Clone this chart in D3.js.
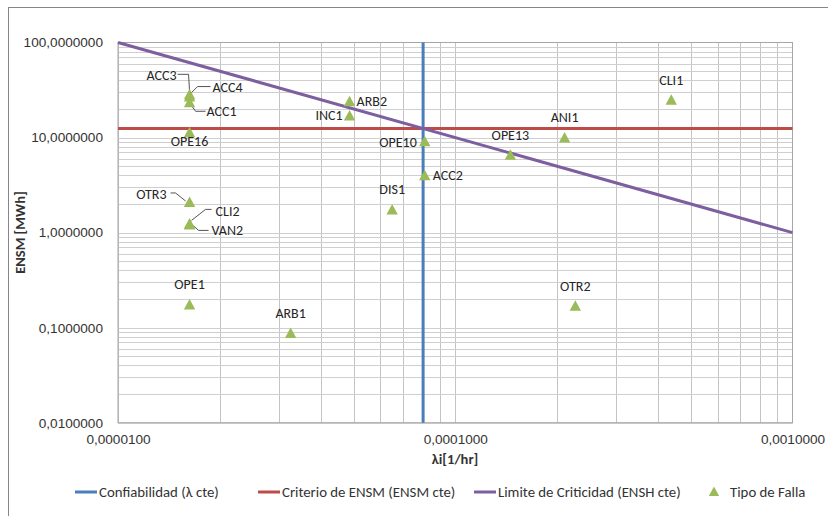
<!DOCTYPE html>
<html>
<head>
<meta charset="utf-8">
<script src="https://cdn.jsdelivr.net/npm/d3@7"></script>
<style>
  body { margin: 0; background: #fff; }
  svg { display: block; font-family: Carlito, Calibri, "Liberation Sans", Arial, sans-serif; }
</style>
</head>
<body>
<div id="chart"></div>
<script>
// failure types (lambda in 1/hr, ENSM in MWh)
const fallas = ["ACC3", "ACC4", "ACC1", "OPE16", "OTR3", "CLI2", "VAN2", "ARB2", "INC1",
                "OPE10", "ACC2", "DIS1", "OPE13", "ANI1", "CLI1", "OTR2", "OPE1", "ARB1"];
const lambdas = [1.63e-5, 1.63e-5, 1.63e-5, 1.63e-5, 1.63e-5, 1.63e-5, 1.63e-5, 4.86e-5, 4.86e-5,
                 8.12e-5, 8.12e-5, 6.5e-5, 1.457e-4, 2.11e-4, 4.37e-4, 2.27e-4, 1.63e-5, 3.25e-5];
const ensm = [28.5, 27, 23.5, 11.4, 2.1, 1.25, 1.22, 24.1, 17.1,
              9.15, 4.0, 1.75, 6.6, 10.0, 25, 0.17, 0.175, 0.088];

// reference criteria
const lambdaCte = 8.03e-5;   // Confiabilidad
const ensmCte = 12.45;       // Criterio de ENSM
const enshCte = 1e-3;        // Limite de Criticidad: lambda * ENSM

const xTicks = [1e-5, 1e-4, 1e-3];
const yTicks = [0.01, 0.1, 1, 10, 100];

const legendLabels = ["Confiabilidad (λ cte)", "Criterio de ENSM (ENSM cte)",
                      "Limite de Criticidad (ENSH cte)", "Tipo de Falla"];

// label placement (text offset from the marker, anchor, optional leader line)
const labelPos = {
  ACC3:  { dx: -13, dy: -19, a: "end", lead: [[-12, -20], [-1, -20], [0, -3]] },
  ACC4:  { dx: 23, dy: -9, a: "start", lead: [[21, -10], [8, -10], [1, -3]] },
  ACC1:  { dx: 17, dy: 9, a: "start", lead: [[16, 9], [6, 9], [1, 2]] },
  OPE16: { dx: 0, dy: 9, a: "middle" },
  OTR3:  { dx: -23, dy: -8, a: "end", lead: [[-19, -9], [-14, -9], [-4, -1]] },
  CLI2:  { dx: 26, dy: -12, a: "start", lead: [[22, -14], [16, -14], [2, -3]] },
  VAN2:  { dx: 22, dy: 6, a: "start", lead: [[19, 6], [9, 6], [1, -1]] },
  ARB2:  { dx: 7, dy: 0, a: "start" },
  INC1:  { dx: -7, dy: 0, a: "end" },
  OPE10: { dx: -8, dy: 1, a: "end" },
  ACC2:  { dx: 8, dy: 0, a: "start" }
};

const width = 828, height = 516;
const margin = { left: 118, right: 35.5, top: 42.5, bottom: 93.3 };
const colors = { blue: "#4a7ebb", red: "#be4b48", purple: "#7d5fa0", green: "#9bbb59" };

const loc = d3.formatLocale({ decimal: ",", thousands: ".", grouping: [3], currency: ["", ""] });
const fmt = loc.format(".7f");

const svg = d3.select("#chart").append("svg")
  .attr("width", width)
  .attr("height", height);

// chart frame
svg.append("rect")
  .attr("x", 8.5).attr("y", 7.5)
  .attr("width", 840).attr("height", 530)
  .attr("fill", "#fff")
  .attr("stroke", "#868686");

const x = d3.scaleLog().domain([1e-5, 1e-3]).range([margin.left, width - margin.right]);
const y = d3.scaleLog().domain([0.01, 100]).range([height - margin.bottom, margin.top]);

// gridlines: every 1..9 within each decade
const gridX = [], gridY = [];
for (let e = -5; e < -3; e++) for (let m = 1; m < 10; m++) gridX.push(m * Math.pow(10, e));
for (let e = -2; e < 2; e++) for (let m = 1; m < 10; m++) gridY.push(m * Math.pow(10, e));

const grid = svg.append("g");
grid.selectAll(".gx")
  .data(gridX)
  .enter()
  .append("line")
  .attr("x1", d => Math.round(x(d)) + 0.5)
  .attr("x2", d => Math.round(x(d)) + 0.5)
  .attr("y1", y.range()[1])
  .attr("y2", y.range()[0])
  .attr("stroke", "#c4c4c4");
grid.selectAll(".gy")
  .data(gridY)
  .enter()
  .append("line")
  .attr("y1", d => Math.round(y(d)) + 0.5)
  .attr("y2", d => Math.round(y(d)) + 0.5)
  .attr("x1", x.range()[0])
  .attr("x2", x.range()[1])
  .attr("stroke", "#cfcfcf");

// plot border
svg.append("rect")
  .attr("x", x.range()[0]).attr("y", y.range()[1])
  .attr("width", x.range()[1] - x.range()[0])
  .attr("height", y.range()[0] - y.range()[1])
  .attr("fill", "none")
  .attr("stroke", "#a6a6a6");

// axes
const yAxis = svg.append("g")
  .attr("transform", `translate(${margin.left},0)`)
  .call(d3.axisLeft(y).tickValues(yTicks).tickFormat(fmt).tickSize(0).tickPadding(15));
const xAxis = svg.append("g")
  .attr("transform", `translate(0,${height - margin.bottom})`)
  .call(d3.axisBottom(x).tickValues(xTicks).tickFormat(fmt).tickSize(0).tickPadding(12));
[xAxis, yAxis].forEach(ax => {
  ax.select(".domain").remove();
  ax.selectAll("text")
    .attr("fill", "#333")
    .style("font-size", "13.6px")
    .style("font-family", null);
});

svg.append("text")
  .attr("x", 455).attr("y", 464)
  .attr("text-anchor", "middle")
  .attr("font-weight", "bold")
  .attr("font-size", 14.5)
  .attr("fill", "#333")
  .text("λi[1/hr]");

svg.append("text")
  .attr("transform", `translate(25,${(y.range()[0] + y.range()[1]) / 2}) rotate(-90)`)
  .attr("text-anchor", "middle")
  .attr("font-weight", "bold")
  .attr("font-size", 14.5)
  .attr("fill", "#333")
  .text("ENSM [MWh]");

// reference lines
const plot = svg.append("g");
plot.append("line")
  .attr("x1", x(lambdaCte)).attr("x2", x(lambdaCte))
  .attr("y1", y.range()[1]).attr("y2", y.range()[0])
  .attr("stroke", colors.blue).attr("stroke-width", 3);
plot.append("line")
  .attr("x1", x.range()[0]).attr("x2", x.range()[1])
  .attr("y1", y(ensmCte)).attr("y2", y(ensmCte))
  .attr("stroke", colors.red).attr("stroke-width", 3);
const limite = x.domain().map(l => [l, enshCte / l]);
plot.append("path")
  .datum(limite)
  .attr("d", d3.line().x(d => x(d[0])).y(d => y(d[1])))
  .attr("fill", "none")
  .attr("stroke", colors.purple).attr("stroke-width", 3);

// markers
const tri = "M0,-5.5L5.7,5L-5.7,5Z";
const pts = fallas.map((f, i) => ({ name: f, px: x(lambdas[i]), py: y(ensm[i]) }));

plot.selectAll(".lead")
  .data(pts.filter(d => labelPos[d.name] && labelPos[d.name].lead))
  .enter()
  .append("polyline")
  .attr("points", d => labelPos[d.name].lead.map(p => [d.px + p[0], d.py + p[1]].join(",")).join(" "))
  .attr("fill", "none")
  .attr("stroke", "#404040")
  .attr("stroke-width", 0.9);

plot.selectAll(".mk")
  .data(pts)
  .enter()
  .append("path")
  .attr("d", tri)
  .attr("transform", d => `translate(${d.px},${d.py})`)
  .attr("fill", colors.green);

plot.selectAll(".lbl")
  .data(pts)
  .enter()
  .append("text")
  .attr("x", d => d.px + (labelPos[d.name] ? labelPos[d.name].dx : 0))
  .attr("y", d => d.py + (labelPos[d.name] ? labelPos[d.name].dy : -20))
  .attr("dy", "0.35em")
  .attr("text-anchor", d => labelPos[d.name] ? labelPos[d.name].a : "middle")
  .attr("font-size", 14)
  .attr("fill", "#262626")
  .text(d => d.name);

// legend
const legendX = [75, 258, 474, 707];
const legendCol = [colors.blue, colors.red, colors.purple, colors.green];
const legend = svg.selectAll(".legend")
  .data(legendLabels)
  .enter()
  .append("g")
  .attr("transform", (d, i) => `translate(${legendX[i]},492)`);

legend.each(function(d, i) {
  const g = d3.select(this);
  if (i < 3) {
    g.append("line")
      .attr("x1", 0).attr("x2", 22)
      .attr("stroke", legendCol[i]).attr("stroke-width", 3);
  } else {
    g.append("path").attr("d", tri).attr("transform", "translate(7,-0.5) scale(0.9)")
      .attr("fill", legendCol[i]);
  }
  g.append("text")
    .attr("x", i < 3 ? 24 : 23)
    .attr("dy", "0.35em")
    .attr("font-size", 14.8)
    .attr("fill", "#333")
    .text(d);
});
</script>
</body>
</html>
